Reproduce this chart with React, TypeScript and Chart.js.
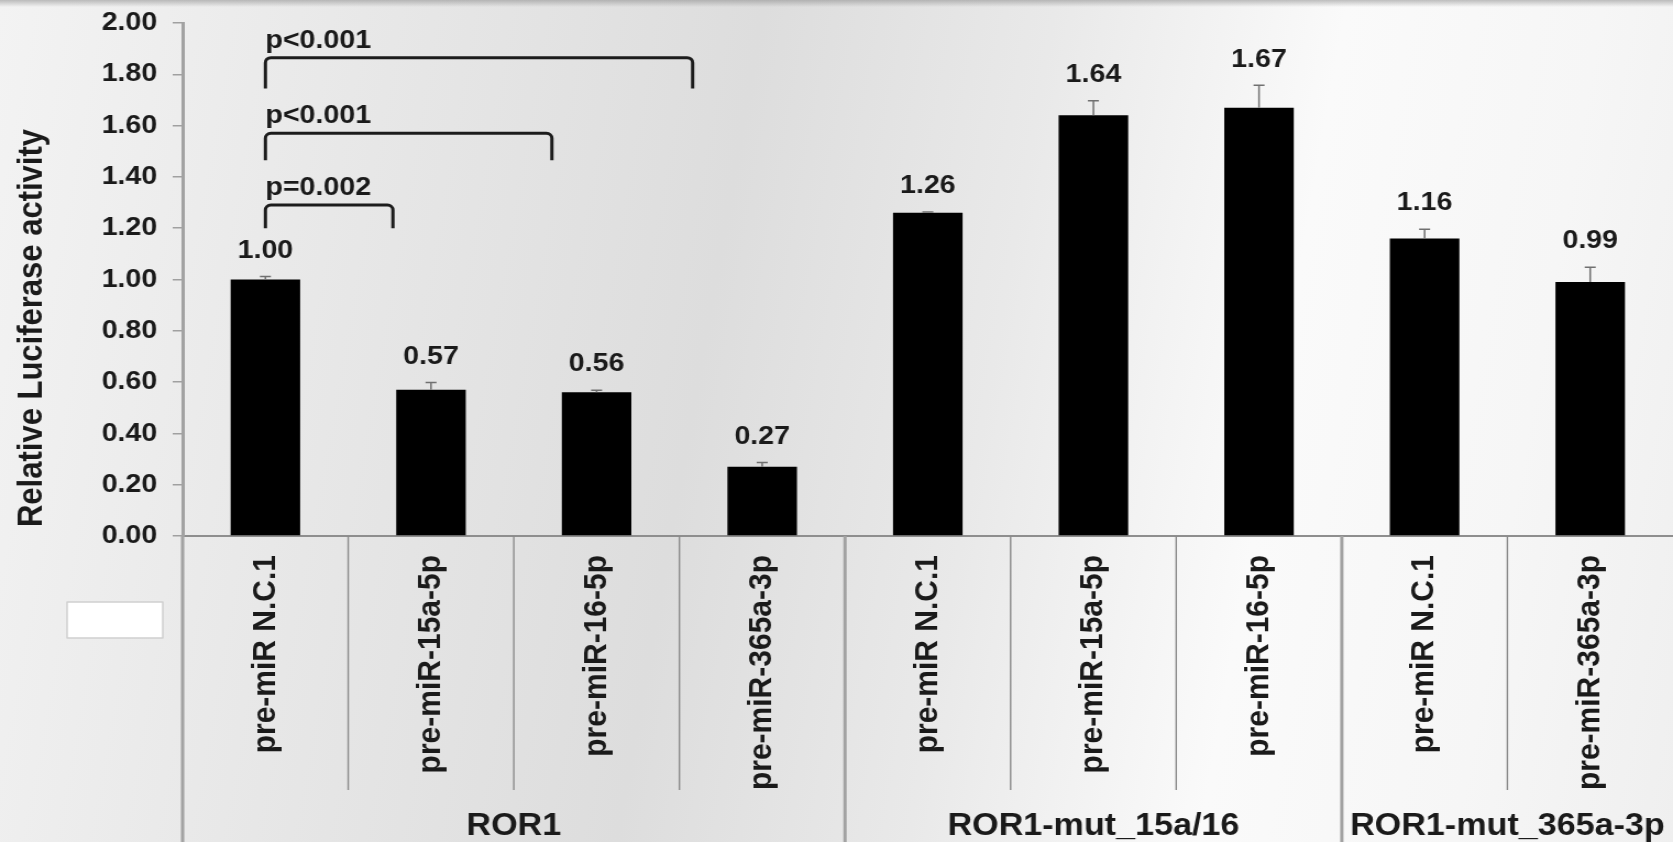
import React, { useEffect, useRef } from 'react';
import { Chart, registerables } from 'chart.js';

Chart.register(...registerables);

// ---------- data ----------
const categories = [
  'pre-miR N.C.1',
  'pre-miR-15a-5p',
  'pre-miR-16-5p',
  'pre-miR-365a-3p',
  'pre-miR N.C.1',
  'pre-miR-15a-5p',
  'pre-miR-16-5p',
  'pre-miR N.C.1',
  'pre-miR-365a-3p',
];
const values = [1.0, 0.57, 0.56, 0.27, 1.26, 1.64, 1.67, 1.16, 0.99];
const errors = [0.012, 0.028, 0.008, 0.017, 0.003, 0.057, 0.087, 0.036, 0.058];
const yTicks = [0, 0.2, 0.4, 0.6, 0.8, 1.0, 1.2, 1.4, 1.6, 1.8, 2.0];
const yTitle = 'Relative Luciferase activity';

const groupLabels = ['ROR1', 'ROR1-mut_15a/16', 'ROR1-mut_365a-3p'];
const groupStarts = [0, 4, 7];
const groupEnds = [3, 6, 8];

const bracketLabels = ['p=0.002', 'p<0.001', 'p<0.001'];
const bracketFrom = [0, 0, 0];
const bracketTo = [0.77, 1.73, 2.58];
const bracketTop = [1.29, 1.57, 1.865];
const bracketBottom = [1.2, 1.465, 1.745];

// ---------- layout / style ----------
const W = 1673;
const H = 842;
const STRETCH = 1.1;
const CW = Math.round(W / STRETCH);
const FONT = '"Liberation Sans", Arial, Helvetica, sans-serif';
const TEXT = '#1a1a1a';

const overlay = {
  id: 'overlay',
  afterDatasetsDraw(chart: any) {
    const { ctx, scales, chartArea } = chart;
    const xs = scales.x;
    const ys = scales.y;
    const meta = chart.getDatasetMeta(0);
    ctx.save();

    // error bars + value labels
    meta.data.forEach((bar: any, i: number) => {
      const x = bar.x;
      const yTop = bar.y;
      const yErr = ys.getPixelForValue(values[i] + errors[i]);
      ctx.strokeStyle = '#707070';
      ctx.lineWidth = 1.5;
      ctx.beginPath();
      ctx.moveTo(x, yTop);
      ctx.lineTo(x, yErr);
      ctx.moveTo(x - 5, yErr);
      ctx.lineTo(x + 5, yErr);
      ctx.stroke();

      ctx.fillStyle = TEXT;
      ctx.font = `bold 26px ${FONT}`;
      ctx.textAlign = 'center';
      ctx.textBaseline = 'middle';
      ctx.fillText(values[i].toFixed(2), x, yErr - 26);
    });

    // significance brackets
    bracketLabels.forEach((label, i) => {
      const x1 = xs.getPixelForValue(bracketFrom[i]);
      const x2 = xs.getPixelForValue(bracketTo[i]);
      const yt = ys.getPixelForValue(bracketTop[i]);
      const yb = ys.getPixelForValue(bracketBottom[i]);
      ctx.strokeStyle = '#1c1c1c';
      ctx.lineWidth = 3;
      ctx.lineJoin = 'round';
      ctx.beginPath();
      ctx.moveTo(x1, yb);
      ctx.arcTo(x1, yt, x2, yt, 5);
      ctx.arcTo(x2, yt, x2, yb, 5);
      ctx.lineTo(x2, yb);
      ctx.stroke();

      ctx.fillStyle = TEXT;
      ctx.font = `bold 26px ${FONT}`;
      ctx.textAlign = 'left';
      ctx.textBaseline = 'middle';
      ctx.fillText(label, x1, yt - 17);
    });

    // separators in the label area
    const half = (xs.getPixelForValue(1) - xs.getPixelForValue(0)) / 2;
    for (let b = 1; b < categories.length; b++) {
      const x = xs.getPixelForValue(b) - half;
      const isGroup = groupStarts.includes(b);
      ctx.beginPath();
      if (isGroup) {
        ctx.strokeStyle = '#a2a2a2';
        ctx.lineWidth = 3;
        ctx.moveTo(x, chartArea.bottom);
        ctx.lineTo(x, H);
      } else {
        ctx.strokeStyle = '#8a8a8a';
        ctx.lineWidth = 1.4;
        ctx.moveTo(x, chartArea.bottom);
        ctx.lineTo(x, 790);
      }
      ctx.stroke();
    }
    // continuation of the y axis through the label area
    ctx.strokeStyle = '#a2a2a2';
    ctx.lineWidth = 3;
    ctx.beginPath();
    ctx.moveTo(chartArea.left, chartArea.bottom);
    ctx.lineTo(chartArea.left, H);
    ctx.stroke();

    // group labels
    ctx.fillStyle = TEXT;
    ctx.font = `bold 31px ${FONT}`;
    ctx.textAlign = 'center';
    ctx.textBaseline = 'middle';
    groupLabels.forEach((g, i) => {
      const cx = (xs.getPixelForValue(groupStarts[i]) + xs.getPixelForValue(groupEnds[i])) / 2;
      ctx.fillText(g, cx, 826);
    });

    // y axis title
    ctx.save();
    ctx.translate(29, 328);
    ctx.rotate(-Math.PI / 2);
    ctx.fillStyle = TEXT;
    ctx.font = `bold 31px ${FONT}`;
    ctx.textAlign = 'center';
    ctx.textBaseline = 'middle';
    ctx.fillText(yTitle, 0, 0);
    ctx.restore();

    // empty white box (legend remnant)
    ctx.fillStyle = '#ffffff';
    ctx.fillRect(61, 602, 87, 36);
    ctx.strokeStyle = '#d0d0d0';
    ctx.lineWidth = 1.5;
    ctx.strokeRect(61, 602, 87, 36);

    ctx.restore();
  },
};

export default function App() {
  const ref = useRef<HTMLCanvasElement>(null);

  useEffect(() => {
    const canvas = ref.current;
    if (!canvas) return;
    const chart = new Chart(canvas, {
      type: 'bar',
      data: {
        labels: categories,
        datasets: [
          {
            data: values,
            backgroundColor: '#000000',
            borderWidth: 0,
            barPercentage: 0.42,
            categoryPercentage: 1,
          },
        ],
      },
      options: {
        responsive: false,
        maintainAspectRatio: false,
        devicePixelRatio: 1,
        animation: false,
        layout: { padding: { top: 23, left: 0, right: 0, bottom: 0 } },
        plugins: {
          legend: { display: false },
          tooltip: { enabled: false },
        },
        scales: {
          x: {
            type: 'category',
            offset: true,
            grid: { display: false, drawTicks: false },
            border: { display: true, color: '#8e8e8e', width: 2 },
            ticks: {
              autoSkip: false,
              minRotation: 90,
              maxRotation: 90,
              padding: 19,
              color: TEXT,
              font: { family: FONT, weight: 'bold', size: 30 },
            },
            afterFit: (s: any) => {
              s.height = H - 536;
              s.paddingLeft = 0;
              s.paddingRight = 0;
            },
          },
          y: {
            min: 0,
            max: 2,
            afterBuildTicks: (s: any) => {
              s.ticks = yTicks.map((v) => ({ value: v }));
            },
            ticks: {
              padding: 14,
              color: TEXT,
              font: { family: FONT, weight: 'bold', size: 26 },
              callback: (v: any) => Number(v).toFixed(2),
            },
            grid: {
              drawOnChartArea: false,
              drawTicks: true,
              tickLength: 9,
              color: '#a0a0a0',
              lineWidth: 1.5,
            },
            border: { display: true, color: '#a2a2a2', width: 3 },
            title: { display: false },
            afterFit: (s: any) => {
              s.width = 166;
              s.paddingTop = 0;
              s.paddingBottom = 0;
            },
          },
        },
      },
      plugins: [overlay],
    });
    return () => chart.destroy();
  }, []);

  return (
    <div
      style={{
        position: 'fixed',
        left: 0,
        top: 0,
        width: W,
        height: H,
        overflow: 'hidden',
        background:
          'linear-gradient(to bottom, rgba(140,140,140,0.55) 0px, rgba(140,140,140,0) 7px), ' +
          'linear-gradient(100deg, #f3f3f3 0%, #e7e7e7 22%, #dddddd 42%, #e9e9e9 58%, #fafafa 74%, #f6f6f6 88%, #efefef 100%)',
      }}
    >
      <canvas
        ref={ref}
        width={CW}
        height={H}
        style={{ width: `${W}px`, height: `${H}px`, display: 'block' }}
      />
    </div>
  );
}
